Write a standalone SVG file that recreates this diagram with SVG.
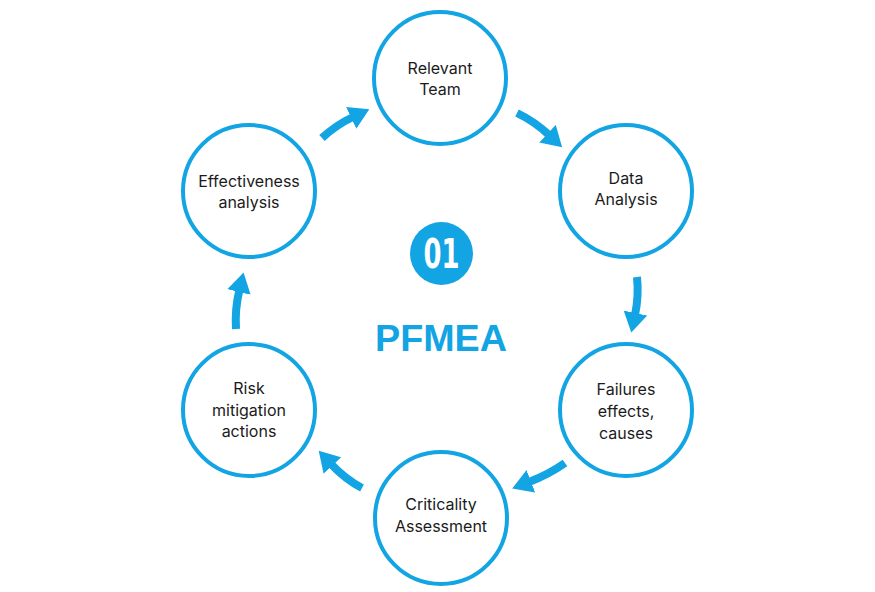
<svg xmlns="http://www.w3.org/2000/svg" width="875" height="592" viewBox="0 0 875 592">
<style>
.node circle{fill:#fff;stroke:#12a4e3;stroke-width:4}
.lbl{font-family:Inter,"Liberation Sans",sans-serif;font-size:16px;fill:#1b1b1b;text-anchor:middle}
.arr{fill:none;stroke:#12a4e3;stroke-width:8;marker-end:url(#ah)}
</style>
<defs>
<marker id="ah" viewBox="0 0 20 24" refX="2" refY="12" markerWidth="20" markerHeight="24" markerUnits="userSpaceOnUse" orient="auto">
<path d="M0,0 L20,12 L0,24 z" fill="#12a4e3"/>
</marker>
</defs>
<rect width="875" height="592" fill="#fff"/>
<g id="connectors">
<path class="arr" d="M517,113 Q534.5,121.4 549,135"/>
<path class="arr" d="M637,277 Q639,296 635,315"/>
<path class="arr" d="M565,463 Q548.6,474.5 529,482"/>
<path class="arr" d="M362,488 Q345,479 331,464"/>
<path class="arr" d="M236,329 Q234.7,309.5 239.4,290"/>
<path class="arr" d="M322,138 Q336,125 353,117"/>
</g>
<g id="relevant-team" class="node">
<circle cx="440" cy="78" r="66"/>
<text class="lbl" x="440" y="74">Relevant</text>
<text class="lbl" x="440" y="95">Team</text>
</g>
<g id="data-analysis" class="node">
<circle cx="626" cy="191" r="66"/>
<text class="lbl" x="626" y="184">Data</text>
<text class="lbl" x="626" y="205">Analysis</text>
</g>
<g id="failures" class="node">
<circle cx="626" cy="410" r="66"/>
<text class="lbl" x="626" y="395">Failures</text>
<text class="lbl" x="626" y="417">effects,</text>
<text class="lbl" x="626" y="439">causes</text>
</g>
<g id="criticality" class="node">
<circle cx="441" cy="518" r="66"/>
<text class="lbl" x="441" y="510">Criticality</text>
<text class="lbl" x="441" y="532">Assessment</text>
</g>
<g id="risk" class="node">
<circle cx="249" cy="410" r="66"/>
<text class="lbl" x="249" y="394">Risk</text>
<text class="lbl" x="249" y="416">mitigation</text>
<text class="lbl" x="249" y="437">actions</text>
</g>
<g id="effectiveness" class="node">
<circle cx="249" cy="191" r="66"/>
<text class="lbl" x="249" y="187">Effectiveness</text>
<text class="lbl" x="249" y="208">analysis</text>
</g>
<g id="center">
<circle cx="441.5" cy="253.5" r="31.5" fill="#12a4e3"/>
<text x="441.5" y="268" font-family="'DejaVu Sans Condensed','DejaVu Sans',sans-serif" font-weight="bold" font-size="41" fill="#fff" text-anchor="middle" textLength="36" lengthAdjust="spacingAndGlyphs">01</text>
<text x="441" y="351" font-family="'Liberation Sans',Arial,sans-serif" font-weight="bold" font-size="37" fill="#12a4e3" text-anchor="middle" textLength="132" lengthAdjust="spacingAndGlyphs">PFMEA</text>
</g>
</svg>
